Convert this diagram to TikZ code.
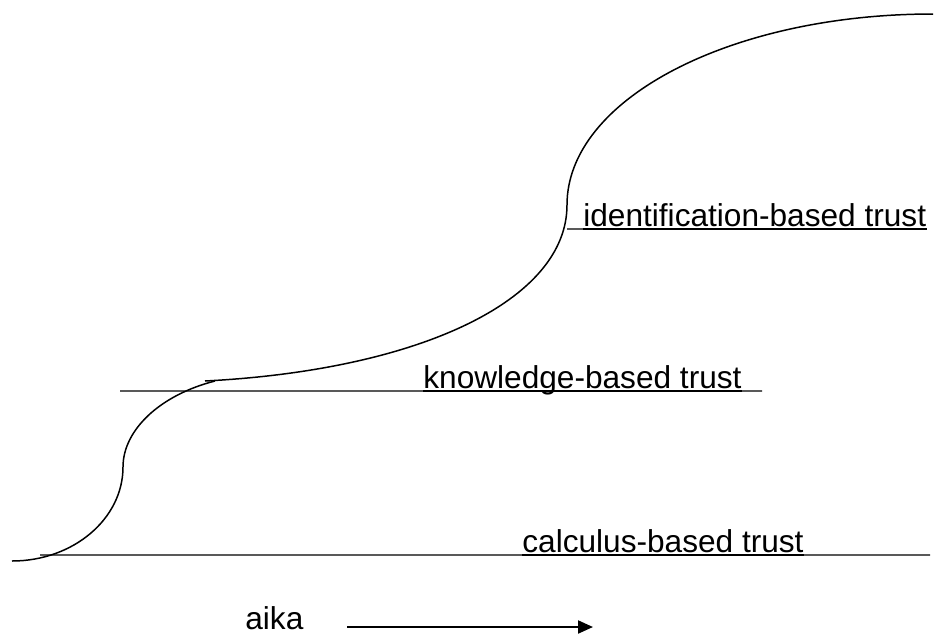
\documentclass[tikz,border=0pt]{standalone}
\usepackage{fontspec}
\setmainfont{Liberation Sans}
\usetikzlibrary{arrows.meta,positioning}

\begin{document}
\begin{tikzpicture}[
		x=0.02cm,y=-0.02cm,
		every node/.append style={inner sep=0pt,anchor=base west,font=\fontsize{18}{21}\selectfont},
		thinline/.style={line width=0.65pt},
		underl/.style={line width=1.1pt},
		trustcurve/.style={line width=0.85pt}
	]
	\useasboundingbox (0,0) rectangle (934,637);
	% levels
	\node (calc) at (522,552.5) {calculus-based trust};
	\node (know) at (423,388.5) {knowledge-based trust};
	\node (ident) at (583,226.5) {identification-based trust};
	\coordinate (calcl) at (40,555);
	\coordinate (calcr) at (930,555);
	\coordinate (knowl) at (120,391);
	\coordinate (knowr) at (762,391);
	\coordinate (identl) at (567,229);
	\foreach \n in {calc,know,ident}
		\draw[underl] ([yshift=-1.4pt]\n.base west) -- ([yshift=-1.4pt]\n.base east);
	\draw[thinline] (calcl) -- ([yshift=-1.4pt]calc.base west);
	\draw[thinline] ([yshift=-1.4pt]calc.base east) -- (calcr);
	\draw[thinline] (knowl) -- ([yshift=-1.4pt]know.base west);
	\draw[thinline] ([yshift=-1.4pt]know.base east) -- (knowr);
	\draw[thinline] (identl) -- ([yshift=-1.4pt]ident.base west);
	% curve
	\draw[trustcurve] (12,561) .. controls (73,561) and (123,519) .. (123,467)
		.. controls (123,430) and (160,395) .. (215,381);
	\draw[trustcurve] (205,381) .. controls (420,370) and (567,300) .. (567,205)
		.. controls (567,99) and (731,14) .. (933,14);
	% time
	\node (aika) at (245,629) {aika};
	\coordinate (timestart) at (347,627);
	\coordinate (timeend) at (593,627);
	\draw[line width=1.2pt,-{Triangle[length=3mm,width=2.6mm]}] (timestart) -- (timeend);
\end{tikzpicture}
\end{document}
